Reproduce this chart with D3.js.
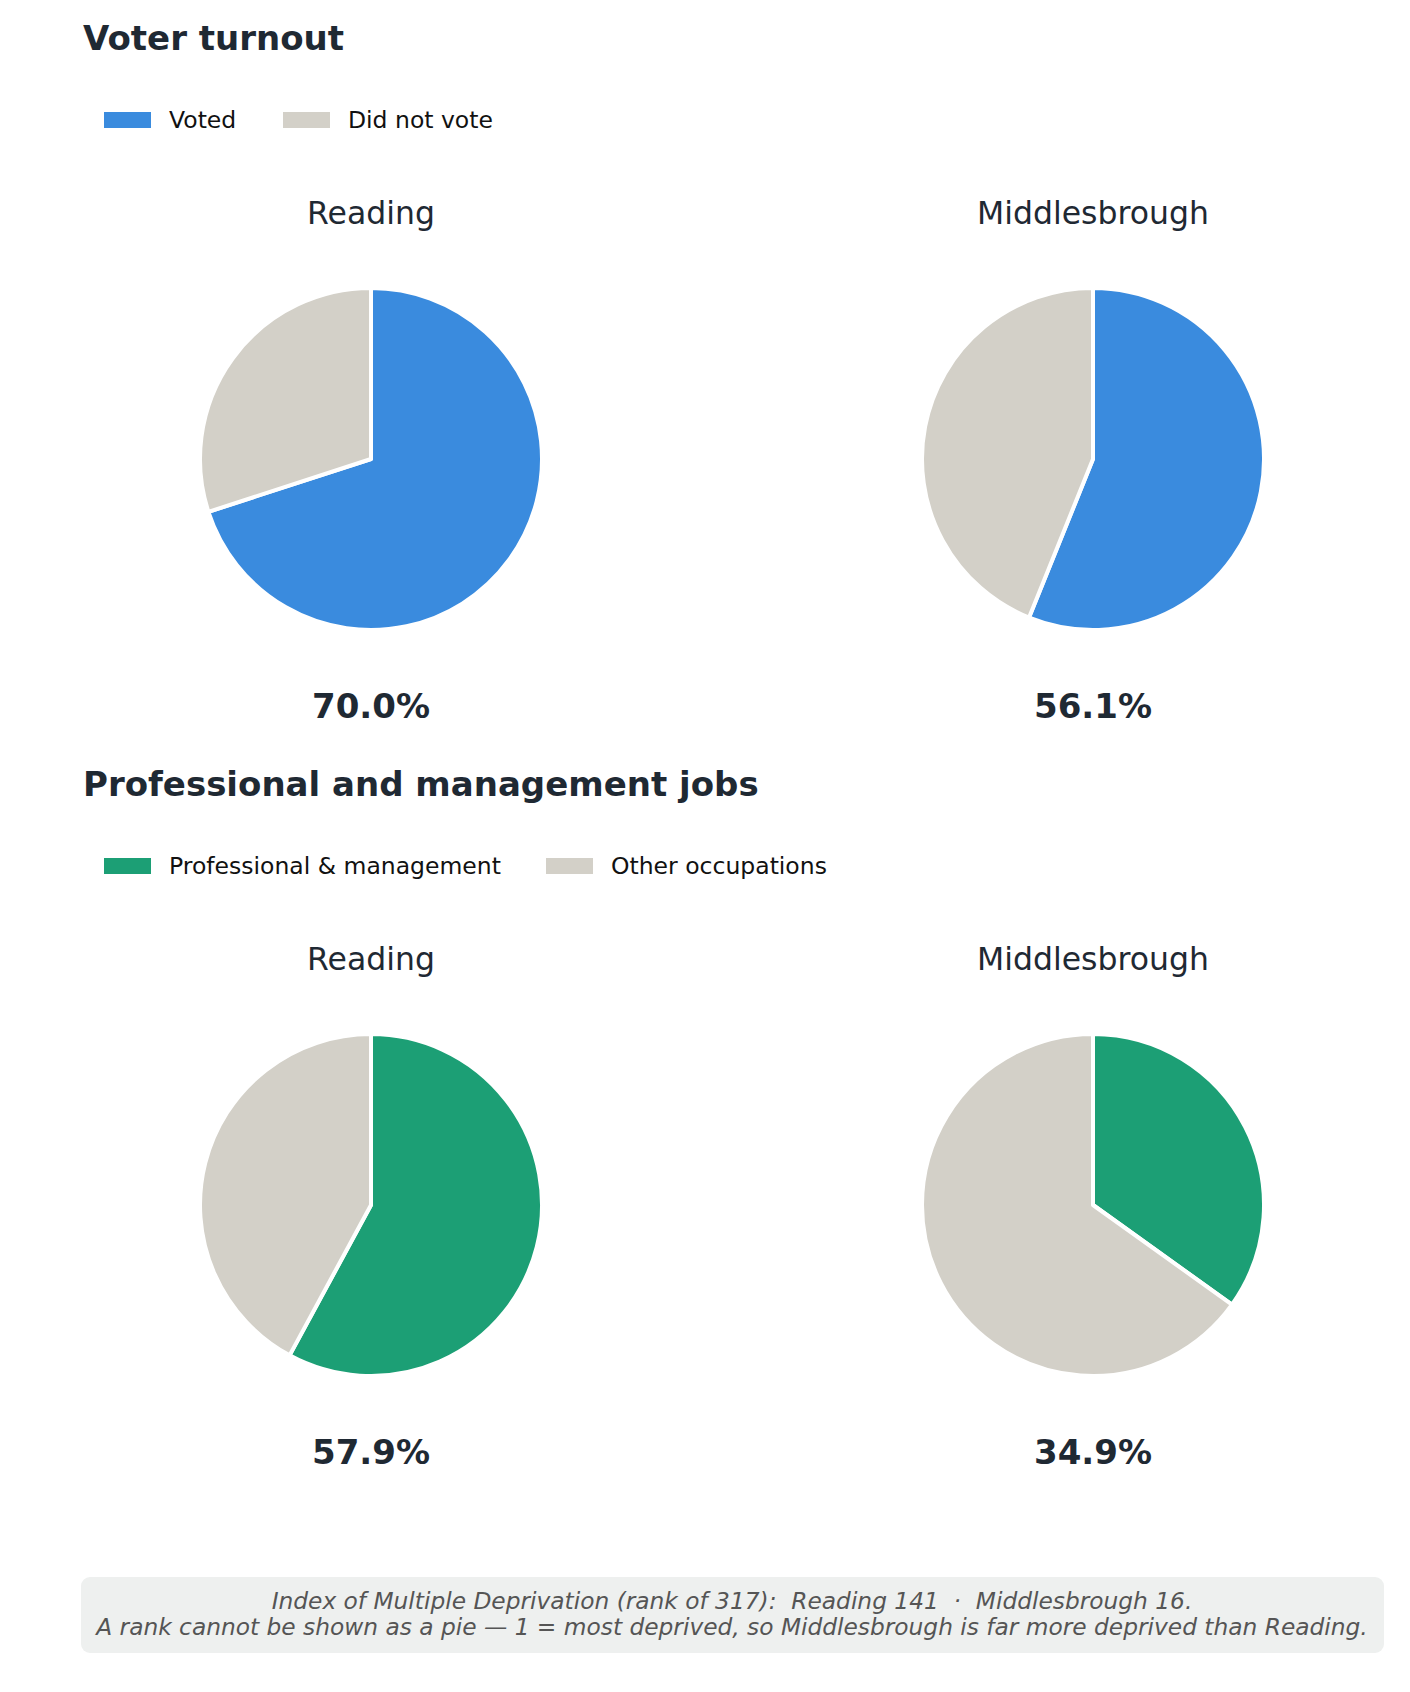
<!DOCTYPE html>
<html>
<head>
<meta charset="utf-8">
<script src="https://cdn.jsdelivr.net/npm/d3@7"></script>
<style>
  body { margin: 0; background: #fff; }
  text { font-family: "DejaVu Sans", sans-serif; }
</style>
</head>
<body>
<div class="container"></div>
<script>
// the data
var places = ["Reading", "Middlesbrough"];
var turnout = [70.0, 56.1];
var professional = [57.9, 34.9];
var turnoutLegend = ["Voted", "Did not vote"];
var jobsLegend = ["Professional & management", "Other occupations"];
var imdRank = [141, 16];
var imdOf = 317;

var W = 1410, H = 1692;
var ink = "#1f2933";

var svg = d3.select(".container").append("svg")
    .attr("width", W)
    .attr("height", H);

var cx = d3.scalePoint().domain(places).range([371, 1093]);
var pie = d3.pie().sort(null).value(function (d) { return d; });
var arc = d3.arc().innerRadius(0).outerRadius(171);

// one block = title, legend, two pies and their big labels
function block(top, title, legend, values, color) {
  var g = svg.append("g").attr("transform", "translate(0," + top + ")");

  g.append("text")
    .attr("x", 83).attr("y", 50)
    .style("font-size", "34px").style("font-weight", "bold")
    .style("fill", ink)
    .text(title);

  var lx = [104, legend[0].length > 10 ? 546 : 283];
  var leg = g.selectAll(".leg").data(legend).enter().append("g")
      .attr("transform", function (d, i) { return "translate(" + lx[i] + ",112)"; });
  leg.append("rect").attr("width", 47).attr("height", 16)
    .style("fill", function (d, i) { return i == 0 ? color : "#d3d0c8"; });
  leg.append("text").attr("x", 65).attr("y", 16)
    .style("font-size", "23.5px").style("fill", "#111")
    .text(function (d) { return d; });

  places.forEach(function (p, i) {
    g.append("text")
      .attr("x", cx(p)).attr("y", 224)
      .attr("text-anchor", "middle")
      .style("font-size", "31.5px").style("fill", ink)
      .text(p);

    var pg = g.append("g").attr("transform", "translate(" + cx(p) + ",459)");
    pg.selectAll("path")
      .data(pie([values[i], 100 - values[i]]))
      .enter().append("path")
      .attr("d", arc)
      .style("fill", function (d, j) { return j == 0 ? color : "#d3d0c8"; })
      .style("stroke", "#fff")
      .style("stroke-width", 4)
      .style("stroke-linejoin", "round");

    g.append("text")
      .attr("x", cx(p)).attr("y", 718)
      .attr("text-anchor", "middle")
      .style("font-size", "34px").style("font-weight", "bold")
      .style("fill", ink)
      .text(values[i].toFixed(1) + "%");
  });
}

block(0, "Voter turnout", turnoutLegend, turnout, "#3a8bde");
block(746, "Professional and management jobs", jobsLegend, professional, "#1c9f75");

// footer note
svg.append("rect")
  .attr("x", 81).attr("y", 1577)
  .attr("width", 1303).attr("height", 76)
  .attr("rx", 9)
  .style("fill", "#eef0ef");

var note = svg.append("text")
  .attr("text-anchor", "middle")
  .style("white-space", "pre")
  .style("font-size", "23.3px").style("font-style", "italic")
  .style("fill", "#555");
note.append("tspan").attr("x", 732).attr("y", 1609)
  .text("Index of Multiple Deprivation (rank of " + imdOf + "):  " + places[0] + " " + imdRank[0] + "  \u00b7  " + places[1] + " " + imdRank[1] + ".");
note.append("tspan").attr("x", 732).attr("y", 1635)
  .text("A rank cannot be shown as a pie \u2014 1 = most deprived, so Middlesbrough is far more deprived than Reading.");
</script>
</body>
</html>
